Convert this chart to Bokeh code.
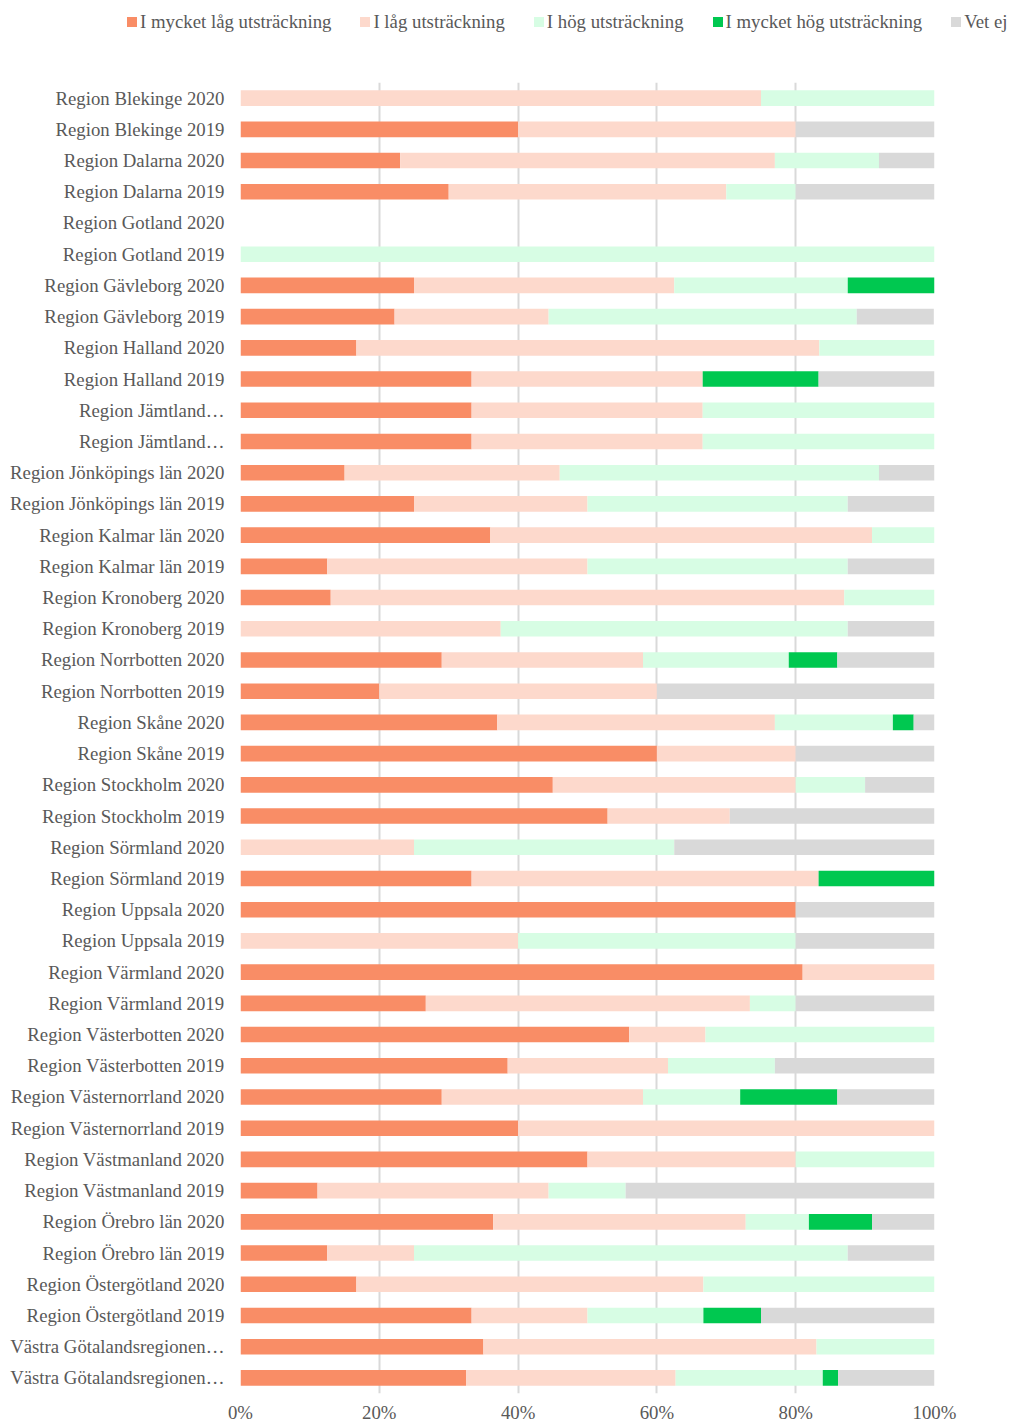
from bokeh.plotting import figure
from bokeh.layouts import column
from bokeh.models import ColumnDataSource, FactorRange, Range1d, FixedTicker, Div
from bokeh.embed import file_html
from bokeh.resources import INLINE

ZW = "\u200b"  # keeps duplicate shown labels unique as factors
categories = [
    "Region Blekinge 2020", "Region Blekinge 2019",
    "Region Dalarna 2020", "Region Dalarna 2019",
    "Region Gotland 2020", "Region Gotland 2019",
    "Region Gävleborg 2020", "Region Gävleborg 2019",
    "Region Halland 2020", "Region Halland 2019",
    "Region Jämtland…", "Region Jämtland…" + ZW,
    "Region Jönköpings län 2020", "Region Jönköpings län 2019",
    "Region Kalmar län 2020", "Region Kalmar län 2019",
    "Region Kronoberg 2020", "Region Kronoberg 2019",
    "Region Norrbotten 2020", "Region Norrbotten 2019",
    "Region Skåne 2020", "Region Skåne 2019",
    "Region Stockholm 2020", "Region Stockholm 2019",
    "Region Sörmland 2020", "Region Sörmland 2019",
    "Region Uppsala 2020", "Region Uppsala 2019",
    "Region Värmland 2020", "Region Värmland 2019",
    "Region Västerbotten 2020", "Region Västerbotten 2019",
    "Region Västernorrland 2020", "Region Västernorrland 2019",
    "Region Västmanland 2020", "Region Västmanland 2019",
    "Region Örebro län 2020", "Region Örebro län 2019",
    "Region Östergötland 2020", "Region Östergötland 2019",
    "Västra Götalandsregionen…", "Västra Götalandsregionen…" + ZW,
]

series_names = ["I mycket låg utsträckning", "I låg utsträckning", "I hög utsträckning",
                "I mycket hög utsträckning", "Vet ej"]

mycket_lag = [0, 40, 23, 30, 0, 0, 25, 22.2, 16.7, 33.3, 33.3, 33.3, 15, 25, 36, 12.5, 13, 0,
              29, 20, 37, 60, 45, 52.9, 0, 33.3, 80, 0, 81, 26.7, 56, 38.5, 29, 40, 50, 11.1,
              36.4, 12.5, 16.7, 33.3, 35, 32.5]
lag = [75, 40, 54, 40, 0, 0, 37.5, 22.2, 66.7, 33.3, 33.3, 33.3, 31, 25, 55, 37.5, 74, 37.5,
       29, 40, 40, 20, 35, 17.6, 25, 50, 0, 40, 19, 46.7, 11, 23.1, 29, 60, 30, 33.3,
       36.4, 12.5, 50, 16.7, 48, 30.2]
hog = [25, 0, 15, 10, 0, 100, 25, 44.4, 16.6, 0, 33.4, 33.4, 46, 37.5, 9, 37.5, 13, 50,
       21, 0, 17, 0, 10, 0, 37.5, 0, 0, 40, 0, 6.6, 33, 15.4, 14, 0, 20, 11.1,
       9.1, 62.5, 33.3, 16.7, 17, 21.2]
mycket_hog = [0, 0, 0, 0, 0, 0, 12.5, 0, 0, 16.7, 0, 0, 0, 0, 0, 0, 0, 0,
              7, 0, 3, 0, 0, 0, 0, 16.7, 0, 0, 0, 0, 0, 0, 14, 0, 0, 0,
              9.1, 0, 0, 8.3, 0, 2.2]
vet_ej = [0, 20, 8, 20, 0, 0, 0, 11.1, 0, 16.7, 0, 0, 8, 12.5, 0, 12.5, 0, 12.5,
          14, 40, 3, 20, 10, 29.5, 37.5, 0, 20, 20, 0, 20, 0, 23.0, 14, 0, 0, 44.5,
          9.0, 12.5, 0, 25, 0, 13.9]

x_ticks = [0, 20, 40, 60, 80, 100]
x_tick_labels = ["0%", "20%", "40%", "60%", "80%", "100%"]

colors = ["#F98D66", "#FDD9CC", "#D7FDE4", "#00C850", "#D9D9D9"]
keys = ["s0", "s1", "s2", "s3", "s4"]

source = ColumnDataSource(dict(cat=categories, s0=mycket_lag, s1=lag, s2=hog,
                               s3=mycket_hog, s4=vet_ej))

FONT = "Liberation Serif"
TXT = "#595959"
GRID = "#D9D9D9"
FS = "18.8px"

LEG_H = 60

# ---- legend (HTML text, built from the series names and colours) ----
parts = []
for i, (name, c) in enumerate(zip(series_names, colors)):
    mr = "0" if i == len(series_names) - 1 else "29px"
    parts.append(
        f'<span style="display:flex;align-items:center;margin-right:{mr};">'
        f'<span style="display:inline-block;width:10px;height:10px;background:{c};'
        f'margin-right:3px;"></span>{name}</span>')
legend_html = (
    f'<div style="position:relative;width:1010px;height:{LEG_H}px;">'
    f'<div style="position:absolute;left:127px;top:11px;height:22px;display:flex;'
    f'align-items:center;white-space:nowrap;font-family:\'{FONT}\';font-size:{FS};'
    f'color:{TXT};line-height:22px;">' + "".join(parts) + '</div></div>')
legend_div = Div(text=legend_html, width=1010, height=LEG_H, margin=0)

# ---- main chart ----
p = figure(width=1010, height=1425 - LEG_H, output_backend="svg", toolbar_location=None,
           y_range=FactorRange(*list(reversed(categories)), range_padding=0),
           x_range=Range1d(0, 100),
           min_border_left=240, min_border_right=76, min_border_top=82 - LEG_H,
           min_border_bottom=30, margin=0)
p.outline_line_color = None
p.background_fill_color = "white"

p.hbar_stack(keys, y="cat", height=0.5, color=colors, line_color=None, source=source)

p.xaxis.ticker = FixedTicker(ticks=x_ticks)
p.xaxis.major_label_overrides = {t: l for t, l in zip(x_ticks, x_tick_labels)}
p.xaxis.axis_line_color = None
p.xaxis.major_tick_line_color = None
p.xaxis.minor_tick_line_color = None
p.xaxis.major_tick_out = 0
p.xaxis.major_tick_in = 0
p.xaxis.major_label_standoff = 8
p.xaxis.major_label_text_font = FONT
p.xaxis.major_label_text_font_size = FS
p.xaxis.major_label_text_color = TXT

p.yaxis.axis_line_color = None
p.yaxis.major_tick_line_color = None
p.yaxis.minor_tick_line_color = None
p.yaxis.major_tick_out = 0
p.yaxis.major_tick_in = 0
p.yaxis.major_label_standoff = 16
p.yaxis.major_label_text_font = FONT
p.yaxis.major_label_text_font_size = FS
p.yaxis.major_label_text_color = TXT

p.xgrid.grid_line_color = GRID
p.xgrid.grid_line_width = 2
p.ygrid.grid_line_color = None

layout = column(legend_div, p, spacing=0)
open("out.html", "w").write(file_html(layout, INLINE))
